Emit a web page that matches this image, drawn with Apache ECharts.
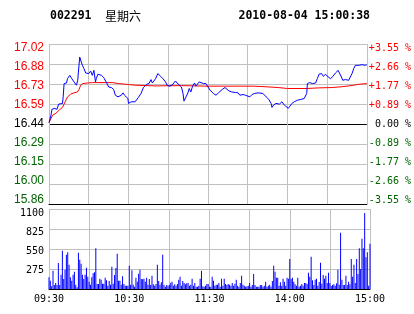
<!DOCTYPE html>
<html><head><meta charset="utf-8">
<script src="https://cdn.jsdelivr.net/npm/echarts@6/dist/echarts.min.js"></script>
<style>html,body{margin:0;padding:0;background:#fff}#c{width:414px;height:314px}</style>
</head><body><div id="c"></div>
<script>
const stockCode = '002291';
const weekday = '星期六';
const timestamp = '2010-08-04 15:00:38';
const prevClose = 16.44;
const priceStep = 0.14591;
// tick labels, bottom to top
const priceTickLabels = ['15.86','16.00','16.15','16.29','16.44','16.59','16.73','16.88','17.02'];
const pctTickLabels = ['-3.55 %','-2.66 %','-1.77 %','-0.89 %',' 0.00 %','+0.89 %','+1.77 %','+2.66 %','+3.55 %'];
const volTickLabels = ['', '275', '550', '825', '1100'];
const timeLabelMinutes = [0, 60, 120, 180, 240];
const timeLabels = ['09:30', '10:30', '11:30', '14:00', '15:00'];

const priceMinutes = [0,1.5,2.2,4,6,7.3,10.2,10.7,11.4,13.2,14,15.7,17.2,18.9,20.7,21.7,22.2,23.2,24.1,25.2,26.4,27.7,28.9,30.1,31.4,32.7,33.9,35.1,35.7,36.9,38.4,39.6,41.3,43.1,45.1,47.1,48.8,50.1,52.1,53.1,54.6,55.9,57,58.3,59.6,60,62.1,65,67.5,69.5,71.3,73.8,75.5,77,78,79.3,80.5,82.2,84.3,86,88,89.2,91,92.9,94.2,95.5,96.7,97.9,100,101.2,101.9,103.4,104.9,105.9,107.1,108.4,109.9,110.9,112.1,113.4,114.9,116.6,118.4,119.9,121.6,124.1,126.1,127.9,129.1,130.8,132.9,134.1,135.9,137.8,140.8,142.8,144.1,146.5,148.3,149.8,151.6,153.3,155.3,157.8,159,161.5,164,166,167.7,168.4,169.5,171.4,174,175.9,177.7,178.9,180.7,181.9,183.4,185.2,187.7,190.1,192.7,193.9,194.6,195.1,196.9,198.9,201.3,202.6,203.9,205.8,207.1,208.8,210.8,212.6,214.4,216.3,218.3,219.6,220.8,221.8,223.8,226.3,227.5,228.8,230.1,231.3,233.8,236.3,238.7,240];
const prices = [16.450,16.505,16.547,16.554,16.547,16.585,16.590,16.638,16.735,16.739,16.771,16.795,16.771,16.747,16.723,16.759,16.819,16.928,16.916,16.868,16.844,16.812,16.819,16.808,16.826,16.795,16.831,16.747,16.771,16.803,16.812,16.795,16.779,16.747,16.710,16.706,16.692,16.650,16.638,16.626,16.650,16.667,16.650,16.663,16.626,16.590,16.602,16.602,16.634,16.663,16.706,16.730,16.735,16.764,16.739,16.747,16.771,16.808,16.788,16.771,16.747,16.723,16.716,16.723,16.735,16.754,16.739,16.728,16.710,16.663,16.607,16.619,16.667,16.699,16.674,16.716,16.739,16.716,16.706,16.747,16.754,16.735,16.735,16.723,16.687,16.663,16.650,16.667,16.663,16.692,16.706,16.710,16.681,16.674,16.670,16.667,16.650,16.655,16.650,16.645,16.638,16.655,16.663,16.667,16.670,16.663,16.638,16.619,16.590,16.561,16.578,16.590,16.585,16.602,16.578,16.565,16.554,16.570,16.590,16.602,16.614,16.619,16.626,16.638,16.663,16.735,16.742,16.735,16.739,16.771,16.803,16.808,16.788,16.803,16.783,16.771,16.788,16.812,16.831,16.819,16.783,16.759,16.764,16.759,16.783,16.808,16.844,16.868,16.868,16.873,16.868,16.873];

const avgMinutes = [0,2.8,5.2,7.7,10.2,12.2,14,16.4,18.9,21.5,22.7,23.9,25.6,28.9,32.7,47.6,52.6,60,65,80,100,120,154,161.5,173,180,195,202.6,213.8,221.3,228.8,234,240];
const avgPrices = [16.450,16.505,16.518,16.542,16.561,16.602,16.638,16.658,16.667,16.674,16.692,16.723,16.735,16.739,16.742,16.742,16.735,16.728,16.723,16.718,16.720,16.716,16.716,16.713,16.706,16.699,16.699,16.703,16.706,16.712,16.721,16.730,16.735];

// one value per minute, 0..240
const volumes = [
160,115,37,252,55,82,55,357,55,197,
527,137,266,472,504,335,160,115,197,238,
60,23,500,403,348,197,137,197,293,170,
101,60,160,215,229,559,69,69,142,128,
73,73,156,119,46,110,60,307,73,192,
289,486,115,115,60,174,69,46,46,46,
321,60,257,60,32,156,101,211,266,137,
133,142,101,156,60,137,55,183,64,46,
69,335,110,60,92,472,55,32,55,46,
55,87,101,46,64,46,69,128,170,46,
110,82,64,78,82,46,60,142,46,82,
32,32,46,142,252,37,32,46,69,69,
32,32,170,115,46,60,60,82,32,142,
46,142,69,55,69,60,46,82,46,73,
128,46,32,82,183,60,46,32,37,46,
82,32,55,206,55,32,32,32,55,55,
32,46,101,32,46,60,32,110,321,238,
156,156,46,92,46,142,101,46,156,142,
412,137,156,101,64,46,156,32,46,69,
46,82,82,69,225,170,445,119,55,128,
142,46,96,362,73,192,142,183,82,225,
82,41,55,64,46,78,266,60,775,128,
55,55,183,55,101,64,412,170,335,82,
412,206,559,275,692,560,1045,435,504,46,
623];

const RED = '#ff0000', GREEN = '#006400', BLACK = '#000000', GRID = '#c0c0c0', BLUE = '#0000ff';
const nTicks = priceTickLabels.length;
const pMin = prevClose - 4 * priceStep;
const pMax = prevClose + 4 * priceStep;
function tickIndex(v) { return Math.round((v - pMin) / priceStep); }
function colorFor(i) { return i < 4 ? GREEN : (i === 4 ? BLACK : RED); }
function padFor(shift) { return shift >= 0 ? [2 * shift, 0, 0, 0] : [0, 0, -2 * shift, 0]; }

const leftRich = {}, rightRich = {};
for (let i = 0; i < nTicks; i++) {
  const sh = i - 4;
  leftRich['p' + i] = { color: colorFor(i), fontFamily: 'Liberation Sans', fontSize: 12, padding: padFor(sh) };
  rightRich['p' + i] = { color: colorFor(i), fontFamily: 'DejaVu Sans Mono', fontSize: 10, padding: padFor(sh) };
}
const volShift = [0, 1.3, 2.3, 3.3, 4.6];
const volRich = {};
for (let i = 0; i < volTickLabels.length; i++) {
  volRich['v' + i] = { color: BLACK, fontFamily: 'DejaVu Sans Mono', fontSize: 10, padding: padFor(volShift[i]) };
}

const chart = echarts.init(document.getElementById('c'), null, { renderer: 'canvas' });
const hdr = { fontFamily: 'DejaVu Sans Mono', fontWeight: 'bold', fontSize: 11.5, color: BLACK };
chart.setOption({
  animation: false,
  backgroundColor: '#ffffff',
  title: [
    { text: stockCode, left: 50, top: 10, padding: 0, textStyle: hdr },
    { text: weekday, left: 105, top: 10, padding: 0, textStyle: { fontFamily: 'Noto Sans CJK SC', fontWeight: 'normal', fontSize: 12, color: BLACK } },
    { text: timestamp, right: 44, top: 10, padding: 0, textStyle: hdr }
  ],
  grid: [
    { left: 49, top: 44, width: 321, height: 160 },
    { left: 49, top: 209, width: 321, height: 80 }
  ],
  xAxis: [
    { type: 'value', gridIndex: 0, min: 0, max: 240, interval: 30,
      axisLine: { show: true, lineStyle: { color: BLACK, width: 1 } },
      axisTick: { show: false }, axisLabel: { show: false },
      splitLine: { show: true, lineStyle: { color: GRID, width: 1 } } },
    { type: 'value', gridIndex: 1, min: 0, max: 240, interval: 30,
      axisLine: { show: true, lineStyle: { color: BLACK, width: 1 } },
      axisTick: { show: false },
      axisLabel: { show: true, margin: 5, color: BLACK, fontFamily: 'DejaVu Sans Mono', fontSize: 10,
        showMinLabel: true, showMaxLabel: true,
        formatter: function (v) { const k = timeLabelMinutes.indexOf(Math.round(v)); return k >= 0 ? timeLabels[k] : ''; } },
      splitLine: { show: true, lineStyle: { color: GRID, width: 1 } } }
  ],
  yAxis: [
    { type: 'value', gridIndex: 0, position: 'left', min: pMin, max: pMax, interval: priceStep,
      axisLine: { show: false }, axisTick: { show: false },
      axisLabel: { margin: 5, showMinLabel: true, showMaxLabel: true,
        formatter: function (v) { const i = tickIndex(v); return '{p' + i + '|' + priceTickLabels[i] + '}'; },
        rich: leftRich },
      splitLine: { show: true, lineStyle: { color: [BLACK, GRID, GRID, GRID, BLACK, GRID, GRID, GRID, GRID], width: 1 } } },
    { type: 'value', gridIndex: 0, position: 'right', min: pMin, max: pMax, interval: priceStep,
      axisLine: { show: false }, axisTick: { show: false },
      axisLabel: { margin: 2, showMinLabel: true, showMaxLabel: true,
        formatter: function (v) { const i = tickIndex(v); return '{p' + i + '|' + pctTickLabels[i] + '}'; },
        rich: rightRich },
      splitLine: { show: false } },
    { type: 'value', gridIndex: 1, position: 'left', min: 0, max: 1100, interval: 275,
      axisLine: { show: false }, axisTick: { show: false },
      axisLabel: { margin: 5, showMinLabel: false, showMaxLabel: true,
        formatter: function (v) { const i = Math.round(v / 275); return volTickLabels[i] ? '{v' + i + '|' + volTickLabels[i] + '}' : ''; },
        rich: volRich },
      splitLine: { show: true, lineStyle: { color: [BLACK, GRID, GRID, GRID, GRID], width: 1 } } }
  ],
  series: [
    { name: 'avg', type: 'line', xAxisIndex: 0, yAxisIndex: 0, showSymbol: false, symbol: 'none',
      lineStyle: { color: RED, width: 1 }, itemStyle: { color: RED },
      data: avgMinutes.map((m, i) => [m, avgPrices[i]]) },
    { name: 'price', type: 'line', xAxisIndex: 0, yAxisIndex: 0, showSymbol: false, symbol: 'none',
      lineStyle: { color: BLUE, width: 1 }, itemStyle: { color: BLUE },
      data: priceMinutes.map((m, i) => [m, prices[i]]) },
    { name: 'vol', type: 'bar', xAxisIndex: 1, yAxisIndex: 2, barWidth: 1,
      itemStyle: { color: BLUE },
      data: volumes.map((v, i) => [i, v]) }
  ]
});
</script></body></html>
